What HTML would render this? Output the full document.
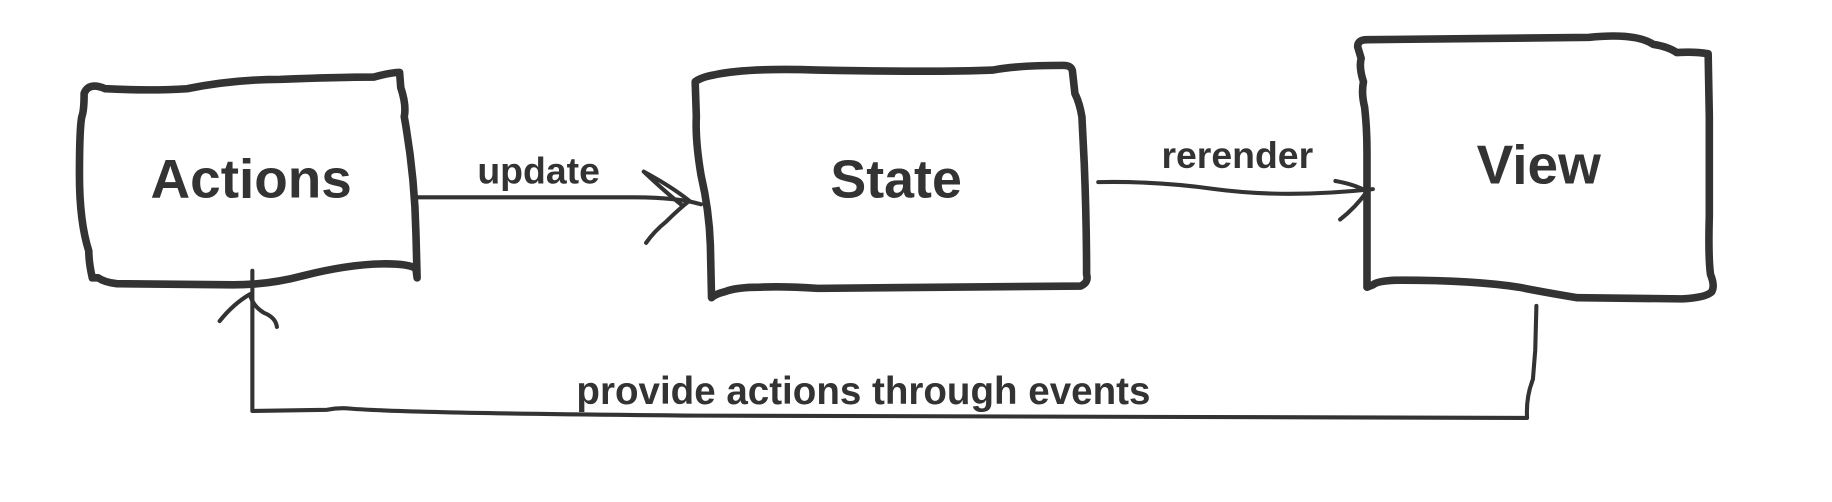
<!DOCTYPE html>
<html><head><meta charset="utf-8"><style>
html,body{margin:0;padding:0;background:#fff;}
svg{display:block;}
text{font-family:"Liberation Sans",sans-serif;font-weight:bold;fill:#333;}
</style></head><body>
<svg width="1832" height="502" viewBox="0 0 1568 430" preserveAspectRatio="none" xmlns="http://www.w3.org/2000/svg">
<g fill="none" stroke="#333" stroke-linecap="round" stroke-linejoin="round">
<!-- Actions box -->
<path stroke-width="6.5" d="M72,80 Q76,70 90,76 Q130,78 160,76 Q200,68 240,68 Q290,66 320,66 Q335,62 342,62 L343,75 Q348,90 346,100 Q355,150 356,200 L357,238 L356,230 Q350,226 330,226 Q300,226 260,236 Q230,244 200,244 L100,243 Q90,242 84,238 L79,238 Q76,225 76,215 Q68,190 68,150 Q68,110 70,100 Q72,95 72,80 Z"/>
<!-- State box -->
<path stroke-width="6.5" d="M595,70 Q600,66 612,64 Q640,58 700,60 Q800,62 850,60 Q870,56 910,56 Q918,56 918,62 L920,80 Q924,88 926,100 L928,140 Q930,190 930,235 Q932,242 925,245 L700,247 Q670,245 650,246 Q630,246 620,250 Q612,252 609,255 L608,210 Q607,180 600,150 Q595,120 596,100 L595,70 Z"/>
<!-- View box -->
<path stroke-width="6.5" d="M1162,40 Q1162,34 1170,34 L1360,32 Q1400,28 1415,38 Q1428,40 1435,45 Q1450,44 1462,46 L1463,100 L1463,185 Q1462,220 1464,235 Q1468,245 1465,250 Q1460,255 1440,256 L1350,255 Q1320,250 1300,246 Q1260,240 1200,240 Q1180,240 1175,244 L1170,246 L1170,130 Q1170,110 1168,92 Q1165,80 1167,70 Q1163,58 1165,50 Z"/>
<!-- update arrow -->
<path stroke-width="3.5" d="M358,169 L540,169 Q580,169 600,175"/>
<path stroke-width="3.5" d="M551,147 Q575,160 590,172 Q580,180 570,190 Q560,198 553,208 M551,147 Q570,165 584,176"/>
<!-- rerender arrow -->
<path stroke-width="3.5" d="M940,156 Q990,155 1040,162 Q1100,170 1175,162"/>
<path stroke-width="3.5" d="M1143,155 Q1160,158 1170,164 Q1160,178 1147,188"/>
<!-- bottom connector -->
<path stroke-width="3.5" d="M1315,262 L1314,300 L1312,325 Q1306,340 1307,358 L600,356 Q350,354 300,350 Q290,349 280,351 L216,352 L216,232"/>
<path stroke-width="3.5" d="M188,275 Q200,260 214,252 Q216,262 226,268 Q236,272 237,280"/>
</g>
<text x="215" y="169" font-size="47" text-anchor="middle">Actions</text>
<text x="767" y="169" font-size="46" text-anchor="middle">State</text>
<text x="1317" y="157" font-size="47" text-anchor="middle">View</text>
<text x="461" y="157" font-size="32" text-anchor="middle">update</text>
<text x="1059" y="144" font-size="32" text-anchor="middle">rerender</text>
<text x="739" y="346" font-size="33" text-anchor="middle">provide actions through events</text>
</svg>
</body></html>
